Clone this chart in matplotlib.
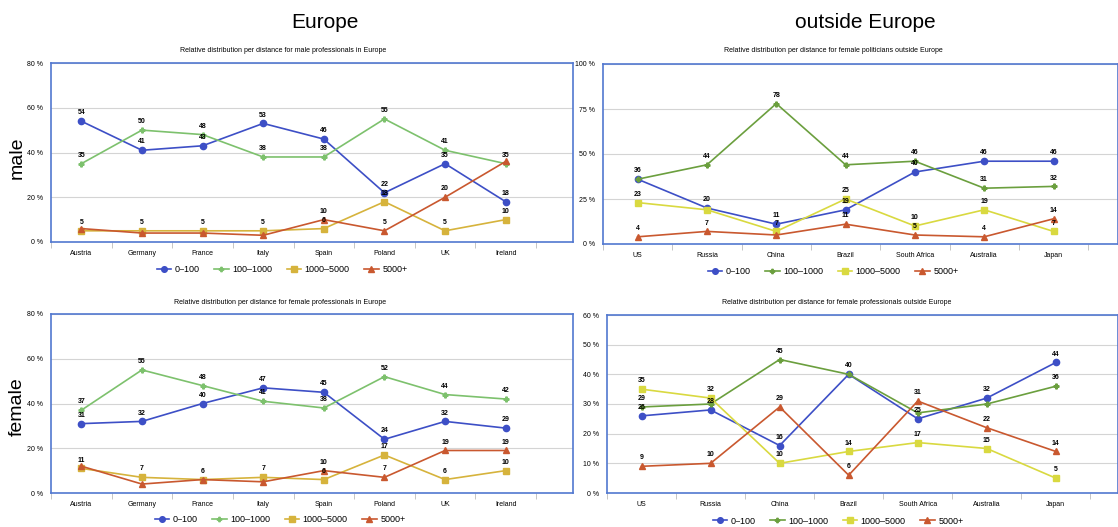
import matplotlib
matplotlib.use("Agg")
from matplotlib import pyplot as plt
import numpy as np

plt.rcParams["font.family"] = ["Liberation Sans", "DejaVu Sans"]

series_names = ["0–100", "100–1000", "1000–5000", "5000+"]

europe = ["Austria", "Germany", "France", "Italy", "Spain", "Poland", "UK", "Ireland"]
outside = ["US", "Russia", "China", "Brazil", "South Africa", "Australia", "Japan"]

# male professionals in Europe
male_eu_0_100 = [54, 41, 43, 53, 46, 22, 35, 18]
male_eu_100_1000 = [35, 50, 48, 38, 38, 55, 41, 35]
male_eu_1000_5000 = [5, 5, 5, 5, 6, 18, 5, 10]
male_eu_5000 = [6, 4, 4, 3, 10, 5, 20, 36]

# female politicians outside Europe
pol_out_0_100 = [36, 20, 11, 19, 40, 46, 46]
pol_out_100_1000 = [36, 44, 78, 44, 46, 31, 32]
pol_out_1000_5000 = [23, 19, 7, 25, 10, 19, 7]
pol_out_5000 = [4, 7, 5, 11, 5, 4, 14]

# female professionals in Europe
fem_eu_0_100 = [31, 32, 40, 47, 45, 24, 32, 29]
fem_eu_100_1000 = [37, 55, 48, 41, 38, 52, 44, 42]
fem_eu_1000_5000 = [11, 7, 6, 7, 6, 17, 6, 10]
fem_eu_5000 = [12, 4, 6, 5, 10, 7, 19, 19]

# female professionals outside Europe
fem_out_0_100 = [26, 28, 16, 40, 25, 32, 44]
fem_out_100_1000 = [29, 30, 45, 40, 27, 30, 36]
fem_out_1000_5000 = [35, 32, 10, 14, 17, 15, 5]
fem_out_5000 = [9, 10, 29, 6, 31, 22, 14]

W, H = 1118, 527
BLUE = "#3d4fc6"
RED = "#c9582f"
FRAME = "#5278d0"


def px_axes(fig, left, top, right, bottom):
    return fig.add_axes([left / W, 1 - bottom / H, (right - left) / W, (bottom - top) / H])


def draw_panel(fig, box, title, title_xy, cats, data, colors, yticks, xmax, legend_xy):
    ax = px_axes(fig, *box)
    markers = ["o", "P", "s", "^"]
    msizes = [4.5, 3.5, 4.5, 4.5]
    x = np.arange(len(cats))
    for vals, name, c, m, ms in zip(data, series_names, colors, markers, msizes):
        ax.plot(x, vals, color=c, lw=1.2, marker=m, ms=ms, label=name, zorder=3)

    # data labels, skip ones sitting on top of an already labelled point
    thr = 0.04 * yticks[-1]
    for i in range(len(cats)):
        done = []
        for vals in data:
            v = vals[i]
            if any(abs(v - d) < thr for d in done):
                continue
            done.append(v)
            ax.annotate(str(v), (x[i], v), xytext=(0, 3.5), textcoords="offset points",
                        ha="center", va="bottom", fontsize=5, fontweight="bold", zorder=4)

    ax.set_xlim(-0.5, xmax)
    ax.set_ylim(0, yticks[-1])
    ax.set_yticks(yticks)
    ax.set_yticklabels([f"{t} %" for t in yticks])
    ax.set_xticks(x)
    ax.set_xticklabels(cats)
    ax.set_xticks(np.arange(len(cats) + 1) - 0.5, minor=True)
    ax.tick_params(axis="x", which="major", length=0, labelsize=5, pad=6)
    ax.tick_params(axis="x", which="minor", length=4, color="#bbbbbb", width=0.6)
    ax.tick_params(axis="y", length=0, labelsize=5, pad=6)
    ax.grid(axis="y", color="#d4d4d4", lw=0.8)
    ax.set_axisbelow(True)
    for s in ax.spines.values():
        s.set_color(FRAME)
        s.set_linewidth(1.2)

    fig.text(title_xy[0] / W, 1 - title_xy[1] / H, title, ha="center", va="center", fontsize=5)
    fig.legend(*ax.get_legend_handles_labels(), loc="center",
               bbox_to_anchor=(legend_xy[0] / W, 1 - legend_xy[1] / H),
               ncol=4, frameon=False, fontsize=6.5, handlelength=1.6,
               handletextpad=0.4, columnspacing=1.6, markerscale=0.9)
    return ax


fig = plt.figure(figsize=(W / 100, H / 100), dpi=100)

eu_colors = [BLUE, "#7dc16d", "#d6b33c", RED]
out_colors = [BLUE, "#6b9f3e", "#d9d940", RED]

draw_panel(fig, (51, 63, 573, 242),
           "Relative distribution per distance for male professionals in Europe", (283, 50),
           europe, [male_eu_0_100, male_eu_100_1000, male_eu_1000_5000, male_eu_5000],
           eu_colors, [0, 20, 40, 60, 80], 8.11, (282, 270))

draw_panel(fig, (603, 64, 1118, 244),
           "Relative distribution per distance for female politicians outside Europe", (833, 51),
           outside, [pol_out_0_100, pol_out_100_1000, pol_out_1000_5000, pol_out_5000],
           out_colors, [0, 25, 50, 75, 100], 6.93, (833, 272))

draw_panel(fig, (51, 314, 573, 493),
           "Relative distribution per distance for female professionals in Europe", (280, 302),
           europe, [fem_eu_0_100, fem_eu_100_1000, fem_eu_1000_5000, fem_eu_5000],
           eu_colors, [0, 20, 40, 60, 80], 8.11, (280, 520))

draw_panel(fig, (607, 315, 1118, 493),
           "Relative distribution per distance for female professionals outside Europe", (837, 302),
           outside, [fem_out_0_100, fem_out_100_1000, fem_out_1000_5000, fem_out_5000],
           out_colors, [0, 10, 20, 30, 40, 50, 60], 6.9, (838, 521))

fig.text(325 / W, 1 - 22 / H, "Europe", ha="center", va="center", fontsize=15)
fig.text(865 / W, 1 - 22 / H, "outside Europe", ha="center", va="center", fontsize=15)
fig.text(17 / W, 1 - 158 / H, "male", ha="center", va="center", rotation=90, fontsize=14)
fig.text(17 / W, 1 - 407 / H, "female", ha="center", va="center", rotation=90, fontsize=14)

fig.savefig("out.png", dpi=100)
plt.close()
